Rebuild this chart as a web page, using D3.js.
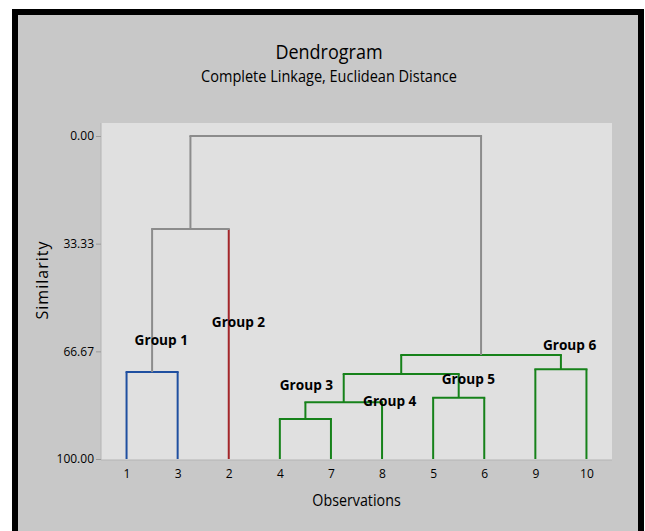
<!DOCTYPE html>
<html>
<head>
<meta charset="utf-8">
<script src="https://cdn.jsdelivr.net/npm/d3@7"></script>
<style>
  body { margin: 0; background: #fff; }
  text { font-family: "Open Sans", "Noto Sans", sans-serif; fill: #000; }
</style>
</head>
<body>
<svg id="chart" width="645" height="531"></svg>
<script>
// observations in dendrogram order
var leafOrder = ["1", "3", "2", "4", "7", "8", "5", "6", "9", "10"];
// group each observation belongs to
var leafGroup = { "1": 1, "3": 1, "2": 2, "4": 3, "7": 3, "8": 4, "5": 5, "6": 5, "9": 6, "10": 6 };
// linkage steps: cluster ids 11.. are created in order
var mergeLeft = ["1", "4", "5", "c12", "9", "c14", "c16", "c11", "c18"];
var mergeRight = ["3", "7", "6", "8", "10", "c13", "c15", "2", "c17"];
var mergeSimilarity = [73.1, 87.6, 81.0, 82.4, 72.2, 73.7, 67.8, 28.8, 0.0];
var yTicks = [0, 33.33, 66.67, 100];
// group labels, placed in observation-index / similarity units
var groupNames = ["Group 1", "Group 2", "Group 3", "Group 4", "Group 5", "Group 6"];
var groupLabelIndex = [0.68, 2.19, 3.52, 5.15, 6.69, 8.67];
var groupLabelSim = [63.5, 57.9, 77.4, 82.4, 75.5, 65.0];

var groupColor = { 1: "#1f4fa0", 2: "#a3262a", 3: "#16821a", 4: "#16821a", 5: "#16821a", 6: "#16821a" };
var linkGray = "#8c8c8c";

var svg = d3.select("#chart");

var plotLeft = 101, plotRight = 612, plotTop = 123, plotBottom = 460;

// frame
svg.append("rect")
	.attr("x", 15).attr("y", 12)
	.attr("width", 626).attr("height", 560)
	.attr("fill", "#c8c8c8")
	.attr("stroke", "#000").attr("stroke-width", 6);

svg.append("rect")
	.attr("x", plotLeft).attr("y", plotTop)
	.attr("width", plotRight - plotLeft).attr("height", plotBottom - plotTop)
	.attr("fill", "#e0e0e0");

var x = d3.scalePoint().domain(leafOrder).range([plotLeft, plotRight]).padding(0.5);
var y = d3.scaleLinear().domain([0, 100]).range([136, 459]);

function xAtIndex(i) {
	return x(leafOrder[0]) + i * x.step();
}

// build nodes
var nodes = {};
leafOrder.forEach(function (id) {
	nodes[id] = { id: id, leaf: true, sim: 100, x: x(id), color: groupColor[leafGroup[id]] };
});
mergeLeft.forEach(function (l, i) {
	var a = nodes[l], b = nodes[mergeRight[i]];
	nodes["c" + (11 + i)] = {
		id: "c" + (11 + i),
		leaf: false,
		sim: mergeSimilarity[i],
		x: (a.x + b.x) / 2,
		left: a,
		right: b,
		color: a.color === b.color ? a.color : linkGray
	};
});

var links = svg.append("g").attr("fill", "none").attr("stroke-width", 2);

d3.range(mergeLeft.length).forEach(function (i) {
	var p = nodes["c" + (11 + i)];
	[p.left, p.right].forEach(function (c) {
		var col = p.color !== linkGray ? p.color : (c.leaf ? c.color : linkGray);
		links.append("line")
			.attr("x1", c.x).attr("x2", c.x)
			.attr("y1", y(c.sim)).attr("y2", y(p.sim))
			.attr("stroke", col);
	});
	links.append("line")
		.attr("x1", p.left.x - 1).attr("x2", p.right.x + 1)
		.attr("y1", y(p.sim)).attr("y2", y(p.sim))
		.attr("stroke", p.color);
});

// axes
var yAxis = svg.append("g")
	.attr("transform", "translate(" + plotLeft + ",0)")
	.call(d3.axisLeft(y).tickValues(yTicks).tickSize(5).tickFormat(d3.format(".2f")));
yAxis.select(".domain").attr("d", "M0," + plotTop + "V" + plotBottom).attr("stroke", "#b4b4b4");
yAxis.selectAll(".tick line").attr("stroke", "#9a9a9a");
yAxis.selectAll(".tick text").attr("font-size", 12).attr("x", -7)
	.style("font-family", "'Open Sans', sans-serif").style("fill", "#000");

var xAxis = svg.append("g")
	.attr("transform", "translate(0," + plotBottom + ")")
	.call(d3.axisBottom(x).tickSize(0).tickPadding(9));
xAxis.select(".domain").attr("d", "M" + plotLeft + ",0H" + plotRight).attr("stroke", "#b4b4b4");
xAxis.selectAll(".tick text").attr("font-size", 12)
	.style("font-family", "'Open Sans', sans-serif").style("fill", "#000");

// group labels
svg.append("g").selectAll("text")
	.data(groupNames)
	.join("text")
	.attr("transform", function (d, i) {
		return "translate(" + xAtIndex(groupLabelIndex[i]) + "," + y(groupLabelSim[i]) + ") scale(0.94,1)";
	})
	.attr("text-anchor", "middle")
	.attr("dominant-baseline", "middle")
	.attr("font-size", 14.5)
	.attr("font-weight", "bold")
	.text(function (d) { return d; });

// titles (source text is horizontally condensed)
function label(txt, tx, ty, size, sx) {
	return svg.append("text")
		.attr("transform", "translate(" + tx + "," + ty + ") scale(" + sx + ",1)")
		.attr("text-anchor", "middle")
		.attr("font-size", size)
		.text(txt);
}
label("Dendrogram", 329, 59, 20, 0.9);
label("Complete Linkage, Euclidean Distance", 329, 82, 16.5, 0.88);
label("Observations", (plotLeft + plotRight) / 2, 506, 17, 0.84);

svg.append("text")
	.attr("transform", "translate(48,280) rotate(-90)")
	.attr("text-anchor", "middle")
	.attr("font-size", 16)
	.attr("letter-spacing", 1)
	.text("Similarity");
</script>
</body>
</html>
